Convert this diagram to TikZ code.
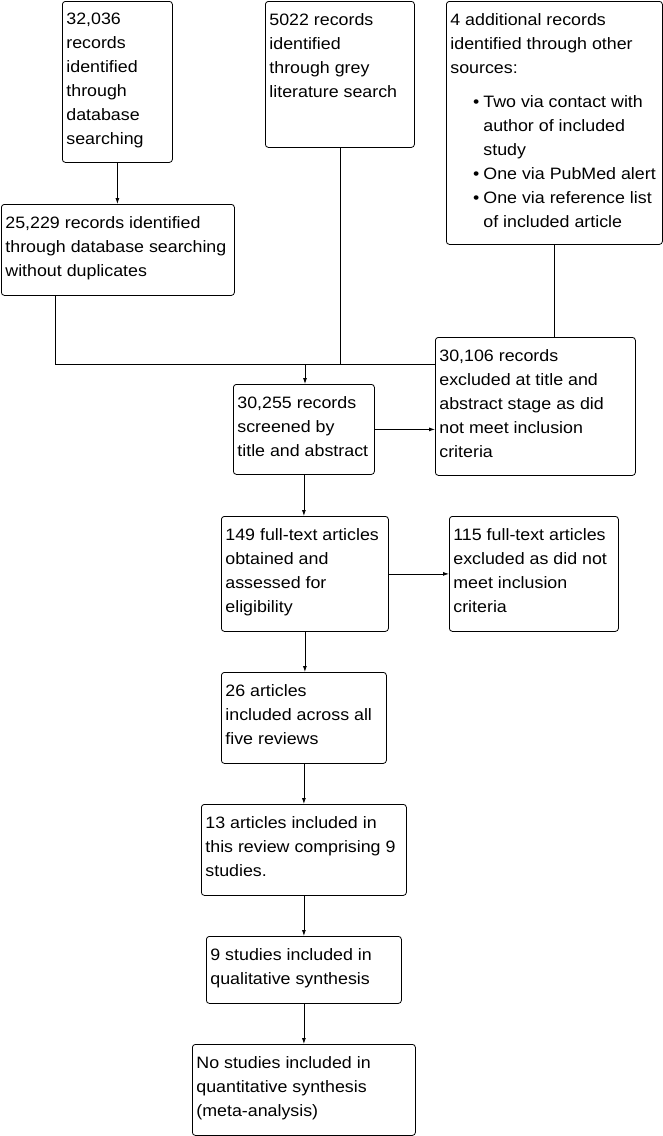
\documentclass[tikz,border=0pt]{standalone}
\usepackage{fontspec}
\setmainfont{Liberation Sans}[FakeStretch=1.08]
\usetikzlibrary{arrows.meta}
% top aligned text block of fixed size
\newcommand{\boxtext}[3]{\parbox[t][#2][t]{#1}{\raggedright #3}}
\newcommand{\ind}{\hspace*{33pt}}
\newcommand{\bul}{\hspace*{33pt}\llap{\textbullet\hspace{4pt}}}
\begin{document}
\begin{tikzpicture}[x=1pt, y=-1pt,
            box/.style={draw, line width=0.8pt, rounded corners=3pt, anchor=north west, inner xsep=4pt, inner ysep=12pt, font=\fontsize{16.5}{24}\selectfont},
            link/.style={line width=0.8pt},
            arr/.style={line width=0.8pt, -{Latex[length=6pt,width=4pt]}}
            ]
            \useasboundingbox (0,0) rectangle (663,1136);
            % identification
            \node[box] (a) at (62,1) {\boxtext{102pt}{137pt}{32,036\\records\\identified\\through\\database\\searching}};
            \node[box] (b) at (265,1) {\boxtext{141pt}{122pt}{5022 records\\identified\\through grey\\literature search}};
            \node[box] (c) at (446,1) {\boxtext{208pt}{219pt}{4 additional records\\identified through other\\sources:\\[10.5pt]\bul Two via contact with\\\ind author of included\\\ind study\\\bul One via PubMed alert\\\bul One via reference list\\\ind of included article}};
            \node[box] (d) at (1,204) {\boxtext{225pt}{67pt}{25,229 records identified\\through database searching\\without duplicates}};
            % screening
            \node[box] (e) at (435,337) {\boxtext{192pt}{114pt}{30,106 records\\excluded at title and\\abstract stage as did\\not meet inclusion\\criteria}};
            \node[box] (f) at (233,384) {\boxtext{133pt}{66pt}{30,255 records\\screened by\\title and abstract}};
            \node[box] (g) at (221,516) {\boxtext{159pt}{91pt}{149 full-text articles\\obtained and\\assessed for\\eligibility}};
            \node[box] (h) at (449,516) {\boxtext{161pt}{91pt}{115 full-text articles\\excluded as did not\\meet inclusion\\criteria}};
            % included
            \node[box] (i) at (221,672) {\boxtext{157pt}{67pt}{26 articles\\included across all\\five reviews}};
            \node[box] (j) at (201,804) {\boxtext{197pt}{67pt}{13 articles included in\\this review comprising 9\\studies.}};
            \node[box] (k) at (206,936) {\boxtext{187pt}{43pt}{9 studies included in\\qualitative synthesis}};
            \node[box] (l) at (192,1044) {\boxtext{215pt}{67pt}{No studies included in\\quantitative synthesis\\(meta-analysis)}};

            \coordinate (merge) at (305,364);
            \draw[arr] (a.south) -- (a.south |- d.north);
            \draw[link] ([xshift=54pt]d.south west) |- (merge -| e.west);
            \draw[link] (b.south) -- (b.south |- merge);
            \draw[link] (c.south) -- (c.south |- e.north);
            \draw[arr] (merge) -- (merge |- f.north);
            \draw[arr] (f.east) -- (f.east -| e.west);
            \draw[arr] (f.south) -- (f.south |- g.north);
            \draw[arr] (g.east) -- (g.east -| h.west);
            \draw[arr] (g.south) -- (g.south |- i.north);
            \draw[arr] (i.south) -- (i.south |- j.north);
            \draw[arr] (j.south) -- (j.south |- k.north);
            \draw[arr] (k.south) -- (k.south |- l.north);
\end{tikzpicture}
\end{document}
